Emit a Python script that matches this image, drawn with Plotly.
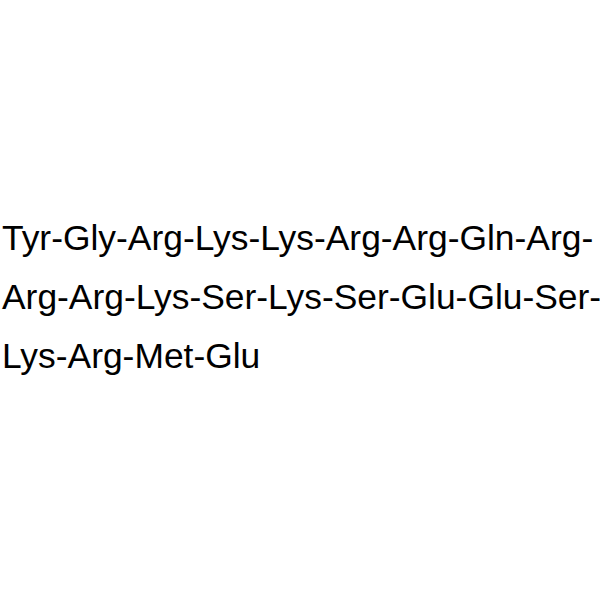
import plotly.graph_objects as go

# peptide sequence, shown as wrapped text
residues = ['Tyr', 'Gly', 'Arg', 'Lys', 'Lys', 'Arg', 'Arg', 'Gln', 'Arg',
            'Arg', 'Arg', 'Lys', 'Ser', 'Lys', 'Ser', 'Glu', 'Glu', 'Ser',
            'Lys', 'Arg', 'Met', 'Glu']
per_line = 9

# build the lines, trailing hyphen where the chain continues
lines = []
for i in range(0, len(residues), per_line):
    chunk = residues[i:i + per_line]
    txt = '-'.join(chunk)
    if i + per_line < len(residues):
        txt += '-'
    lines.append(txt)

fig = go.Figure()

line_y = [238, 297, 356]  # pixel centre of each line
annotations = []
for txt, yp in zip(lines, line_y):
    annotations.append(dict(
        x=0, y=1 - yp / 600,
        xref='paper', yref='paper',
        xanchor='left', yanchor='middle',
        text=txt, showarrow=False,
        font=dict(family='Liberation Sans, Arial', size=35.4, color='black'),
    ))

fig.update_layout(
    width=600, height=600,
    margin=dict(l=0, r=0, t=0, b=0),
    paper_bgcolor='white', plot_bgcolor='white',
    xaxis=dict(visible=False, range=[0, 1]),
    yaxis=dict(visible=False, range=[0, 1]),
    annotations=annotations,
    showlegend=False,
)

# drop the default body margin so the figure sits at the window corner
fig.write_html('out.html', config={'displayModeBar': False},
               post_script="document.body.style.margin='0';")
